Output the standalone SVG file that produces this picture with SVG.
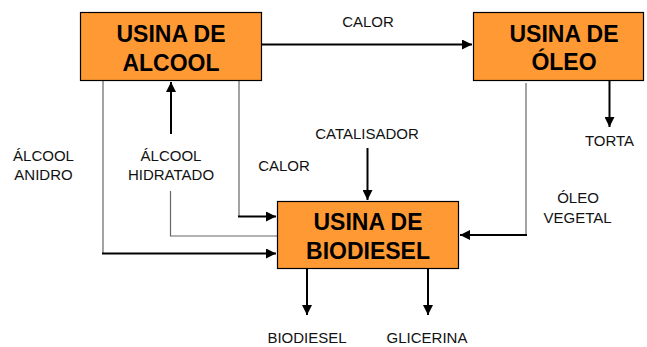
<svg xmlns="http://www.w3.org/2000/svg" width="647" height="347" viewBox="0 0 647 347">
<style>
.box{fill:#FF9933;stroke:#000;stroke-width:1.2}
.t{font-family:"Liberation Sans",Arial,sans-serif;font-weight:bold;font-size:23px;fill:#000;text-anchor:middle}
.l{font-family:"Liberation Sans",Arial,sans-serif;font-size:15px;fill:#111;text-anchor:middle}
.thick{fill:none;stroke:#000;stroke-width:2}
.thin{fill:none;stroke:#666;stroke-width:1.2}
</style>
<defs>
<marker id="ah" viewBox="0 0 10 10" refX="10" refY="5" markerWidth="5" markerHeight="5" orient="auto" markerUnits="strokeWidth">
<path d="M0,0 L10,5 L0,10 z" fill="#000"/>
</marker>
</defs>
<rect width="647" height="347" fill="#fff"/>
<g id="connectors">
<line class="thick" x1="262" y1="44.5" x2="472" y2="44.5" marker-end="url(#ah)"/>
<line class="thick" x1="171" y1="134" x2="171" y2="82" marker-end="url(#ah)"/>
<line class="thin" x1="103" y1="81" x2="103" y2="253.5"/>
<line class="thick" x1="102" y1="253.5" x2="276" y2="253.5" marker-end="url(#ah)"/>
<line class="thin" x1="239" y1="81" x2="239" y2="216.5"/>
<line class="thick" x1="238" y1="216.5" x2="276" y2="216.5" marker-end="url(#ah)"/>
<polyline class="thin" points="170.5,191 170.5,236 277,236"/>
<line class="thick" x1="367.5" y1="148" x2="367.5" y2="200" marker-end="url(#ah)"/>
<line class="thin" x1="526" y1="83" x2="526" y2="235"/>
<line class="thick" x1="527" y1="235" x2="460" y2="235" marker-end="url(#ah)"/>
<line class="thick" x1="609.5" y1="81" x2="609.5" y2="127" marker-end="url(#ah)"/>
<line class="thick" x1="307" y1="269" x2="307" y2="315" marker-end="url(#ah)"/>
<line class="thick" x1="428" y1="269" x2="428" y2="315" marker-end="url(#ah)"/>
</g>
<g id="usina-alcool">
<rect class="box" x="80.5" y="12.5" width="181" height="68"/>
<text class="t" x="171" y="41.5">USINA DE</text>
<text class="t" x="171" y="70.5">ALCOOL</text>
</g>
<g id="usina-oleo">
<rect class="box" x="473.5" y="12.5" width="170" height="68"/>
<text class="t" x="564" y="41.5">USINA DE</text>
<text class="t" x="564" y="70">ÓLEO</text>
</g>
<g id="usina-biodiesel">
<rect class="box" x="277.5" y="201.5" width="181" height="67"/>
<text class="t" x="368" y="230">USINA DE</text>
<text class="t" x="368" y="258.5">BIODIESEL</text>
</g>
<g id="labels">
<text class="l" x="368" y="26.5">CALOR</text>
<text class="l" x="43.5" y="160.5">ÁLCOOL</text>
<text class="l" x="43.5" y="180">ANIDRO</text>
<text class="l" x="171" y="160.5">ÁLCOOL</text>
<text class="l" x="171" y="180">HIDRATADO</text>
<text class="l" x="284" y="170.5">CALOR</text>
<text class="l" x="367" y="139">CATALISADOR</text>
<text class="l" x="609.5" y="146">TORTA</text>
<text class="l" x="578" y="203.3">ÓLEO</text>
<text class="l" x="577.5" y="223.3">VEGETAL</text>
<text class="l" x="307" y="342.5">BIODIESEL</text>
<text class="l" x="427" y="342.5">GLICERINA</text>
</g>
</svg>
